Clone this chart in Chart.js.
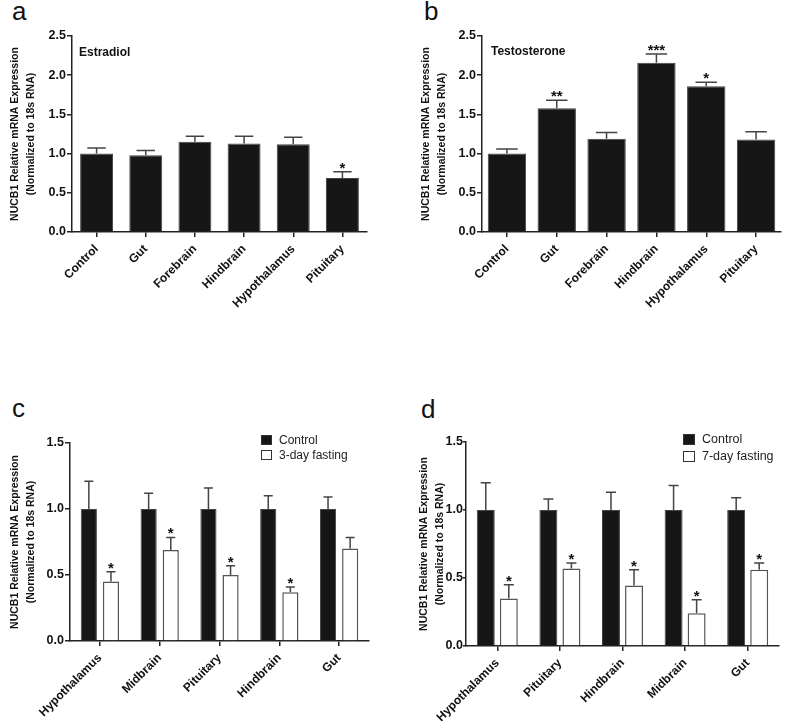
<!DOCTYPE html>
<html>
<head>
<meta charset="utf-8">
<script src="https://cdn.jsdelivr.net/npm/chart.js@4.4.1/dist/chart.umd.min.js"></script>
<style>
  html, body { margin: 0; padding: 0; background: #fff; }
  body { width: 787px; height: 721px; position: relative; overflow: hidden; font-family: Arial, "Liberation Sans", Helvetica, sans-serif; }
  canvas { position: absolute; }
  .letter { position: absolute; font-size: 26px; line-height: 26px; color: #111; }
</style>
</head>
<body>
<div class="letter" style="left:12px;top:-2px">a</div>
<div class="letter" style="left:424px;top:-2px">b</div>
<div class="letter" style="left:12px;top:395px">c</div>
<div class="letter" style="left:421px;top:396px">d</div>

<canvas id="chartA" width="390" height="320" style="left:0;top:0"></canvas>
<canvas id="chartB" width="387" height="320" style="left:400px;top:0"></canvas>
<canvas id="chartC" width="395" height="321" style="left:0;top:400px"></canvas>
<canvas id="chartD" width="387" height="321" style="left:400px;top:400px"></canvas>

<script>
// values (mean and upper SEM)
const hormoneTissues = ['Control', 'Gut', 'Forebrain', 'Hindbrain', 'Hypothalamus', 'Pituitary'];
const estradiolMean = [1.00, 0.98, 1.15, 1.13, 1.12, 0.69];
const estradiolSem = [0.07, 0.06, 0.07, 0.09, 0.09, 0.08];
const estradiolStars = ['', '', '', '', '', '*'];

const testosteroneMean = [1.00, 1.58, 1.19, 2.16, 1.86, 1.18];
const testosteroneSem = [0.06, 0.10, 0.08, 0.11, 0.05, 0.10];
const testosteroneStars = ['', '**', '', '***', '*', ''];

const fast3Tissues = ['Hypothalamus', 'Midbrain', 'Pituitary', 'Hindbrain', 'Gut'];
const fast3ControlMean = [1.00, 1.00, 1.00, 1.00, 1.00];
const fast3ControlSem = [0.21, 0.12, 0.16, 0.10, 0.09];
const fast3Mean = [0.45, 0.69, 0.50, 0.37, 0.70];
const fast3Sem = [0.075, 0.095, 0.07, 0.04, 0.085];
const fast3Stars = ['*', '*', '*', '*', ''];

const fast7Tissues = ['Hypothalamus', 'Pituitary', 'Hindbrain', 'Midbrain', 'Gut'];
const fast7ControlMean = [1.00, 1.00, 1.00, 1.00, 1.00];
const fast7ControlSem = [0.20, 0.08, 0.13, 0.18, 0.09];
const fast7Mean = [0.35, 0.57, 0.445, 0.24, 0.56];
const fast7Sem = [0.10, 0.04, 0.115, 0.10, 0.05];
const fast7Stars = ['*', '*', '*', '*', '*'];

const yTitle = ['NUCB1 Relative mRNA Expression', '(Normalized to 18s RNA)'];

const fontFamily = 'Arial, "Liberation Sans", Helvetica, sans-serif';
const axisColor = '#222';
const barBlack = '#161616';

Chart.defaults.font.family = fontFamily;

// error bars (upper half only) + significance stars
const errorBarPlugin = {
  id: 'errorBars',
  afterDatasetsDraw(chart) {
    const ctx = chart.ctx;
    const yScale = chart.scales.y;
    chart.data.datasets.forEach((ds, di) => {
      if (!ds.sem) return;
      const meta = chart.getDatasetMeta(di);
      meta.data.forEach((bar, i) => {
        const top = yScale.getPixelForValue(ds.data[i] + ds.sem[i]);
        const capHalf = bar.width * 0.28;
        ctx.save();
        ctx.strokeStyle = '#444';
        ctx.lineWidth = 1.5;
        ctx.beginPath();
        ctx.moveTo(bar.x, bar.y);
        ctx.lineTo(bar.x, top);
        ctx.moveTo(bar.x - capHalf, top);
        ctx.lineTo(bar.x + capHalf, top);
        ctx.stroke();
        if (ds.stars && ds.stars[i]) {
          ctx.fillStyle = '#111';
          ctx.font = 'bold 15px ' + fontFamily;
          ctx.textAlign = 'center';
          ctx.textBaseline = 'alphabetic';
          ctx.fillText(ds.stars[i], bar.x, top + 1);
        }
        ctx.restore();
      });
    });
  }
};

// little boxed legend inside the plot, like the Prism one
const boxLegendPlugin = {
  id: 'boxLegend',
  afterDraw(chart, args, opts) {
    if (!opts.show) return;
    const { ctx, chartArea } = chart;
    ctx.save();
    chart.data.datasets.forEach((ds, i) => {
      const x = chartArea.left + opts.x;
      const y = chartArea.top + opts.y + i * opts.rowGap;
      ctx.fillStyle = ds.backgroundColor;
      ctx.fillRect(x, y, opts.box, opts.box - 1);
      ctx.strokeStyle = '#333';
      ctx.lineWidth = 1;
      ctx.strokeRect(x + 0.5, y + 0.5, opts.box - 1, opts.box - 2);
      ctx.fillStyle = '#222';
      ctx.font = opts.fontSize + 'px ' + fontFamily;
      ctx.textAlign = 'left';
      ctx.textBaseline = 'middle';
      ctx.fillText(ds.label, x + opts.box + 7, y + opts.box / 2);
    });
    ctx.restore();
  }
};

// treatment name in the top-left corner of the plot
const panelNotePlugin = {
  id: 'panelNote',
  afterDraw(chart, args, opts) {
    if (!opts.text) return;
    const { ctx, chartArea } = chart;
    ctx.save();
    ctx.fillStyle = '#111';
    ctx.font = 'bold 12px ' + fontFamily;
    ctx.textAlign = 'left';
    ctx.textBaseline = 'middle';
    ctx.fillText(opts.text, chartArea.left + opts.x, chartArea.top + opts.y);
    ctx.restore();
  }
};

function buildChart(id, cfg) {
  const ctx = document.getElementById(id).getContext('2d');
  const yTick = cfg.yTick || { len: 5, pad: 1 };
  return new Chart(ctx, {
    type: 'bar',
    data: { labels: cfg.labels, datasets: cfg.datasets },
    options: {
      responsive: false,
      animation: false,
      layout: { padding: cfg.padding },
      plugins: {
        legend: { display: false },
        tooltip: { enabled: false },
        boxLegend: cfg.legend || { show: false },
        panelNote: cfg.note || {}
      },
      scales: {
        x: {
          afterFit: s => { s.height = cfg.xHeight; },
          grid: { display: true, drawOnChartArea: false, drawTicks: true, tickLength: 5, offset: false, color: axisColor, lineWidth: 1.5 },
          border: { display: true, color: axisColor, width: 1.5 },
          ticks: { color: '#111', autoSkip: false, maxRotation: 45, minRotation: 45, padding: 5, font: { size: 12, weight: 'bold' } }
        },
        y: {
          min: 0,
          max: cfg.yMax,
          afterFit: s => { s.width = cfg.yWidth; },
          grid: { display: true, drawOnChartArea: false, drawTicks: true, tickLength: yTick.len, color: axisColor, lineWidth: 1.5 },
          border: { display: true, color: axisColor, width: 1.5 },
          ticks: { stepSize: 0.5, color: '#111', padding: yTick.pad, font: { size: 12.5, weight: 'bold' }, callback: v => v.toFixed(1) },
          title: { display: true, text: yTitle, color: '#111', padding: { top: 7.5, bottom: 0 }, font: { size: 10.5, weight: 'bold', lineHeight: 1.5 } }
        }
      }
    },
    plugins: [errorBarPlugin, boxLegendPlugin, panelNotePlugin]
  });
}

function singleSet(mean, sem, stars, barPct) {
  return [{
    label: 'Relative expression',
    data: mean,
    sem: sem,
    stars: stars,
    backgroundColor: barBlack,
    borderColor: '#444',
    borderWidth: 1,
    barPercentage: barPct,
    categoryPercentage: 1
  }];
}

function fastingSets(ctrlMean, ctrlSem, mean, sem, stars, label, barPct, catPct) {
  return [
    { label: 'Control', data: ctrlMean, sem: ctrlSem, backgroundColor: barBlack, borderColor: '#444', borderWidth: 1, barPercentage: barPct, categoryPercentage: catPct },
    { label: label, data: mean, sem: sem, stars: stars, backgroundColor: '#ffffff', borderColor: '#555', borderWidth: 1.5, barPercentage: barPct, categoryPercentage: catPct }
  ];
}

buildChart('chartA', {
  labels: hormoneTissues,
  datasets: singleSet(estradiolMean, estradiolSem, estradiolStars, 0.67),
  yMax: 2.5, yWidth: 72, xHeight: 88,
  padding: { left: 0, top: 36, right: 23, bottom: 0 },
  note: { text: 'Estradiol', x: 7, y: 17 }
});

buildChart('chartB', {
  labels: hormoneTissues,
  datasets: singleSet(testosteroneMean, testosteroneSem, testosteroneStars, 0.77),
  yMax: 2.5, yWidth: 71, xHeight: 88,
  padding: { left: 11, top: 36, right: 6, bottom: 0 },
  note: { text: 'Testosterone', x: 9, y: 16 }
});

buildChart('chartC', {
  labels: fast3Tissues,
  datasets: fastingSets(fast3ControlMean, fast3ControlSem, fast3Mean, fast3Sem, fast3Stars, '3-day fasting', 0.73, 0.74),
  yMax: 1.5, yWidth: 70, xHeight: 80,
  padding: { left: 0, top: 43, right: 26, bottom: 0 },
  legend: { show: true, x: 191, y: -8, box: 11, rowGap: 15, fontSize: 12 }
});

buildChart('chartD', {
  labels: fast7Tissues,
  datasets: fastingSets(fast7ControlMean, fast7ControlSem, fast7Mean, fast7Sem, fast7Stars, '7-day fasting', 0.78, 0.736),
  yMax: 1.5, yWidth: 57, xHeight: 75, yTick: { len: 3, pad: 0 },
  padding: { left: 9, top: 42, right: 8, bottom: 0 },
  legend: { show: true, x: 217, y: -8, box: 12, rowGap: 17, fontSize: 12.5 }
});
</script>
</body>
</html>
